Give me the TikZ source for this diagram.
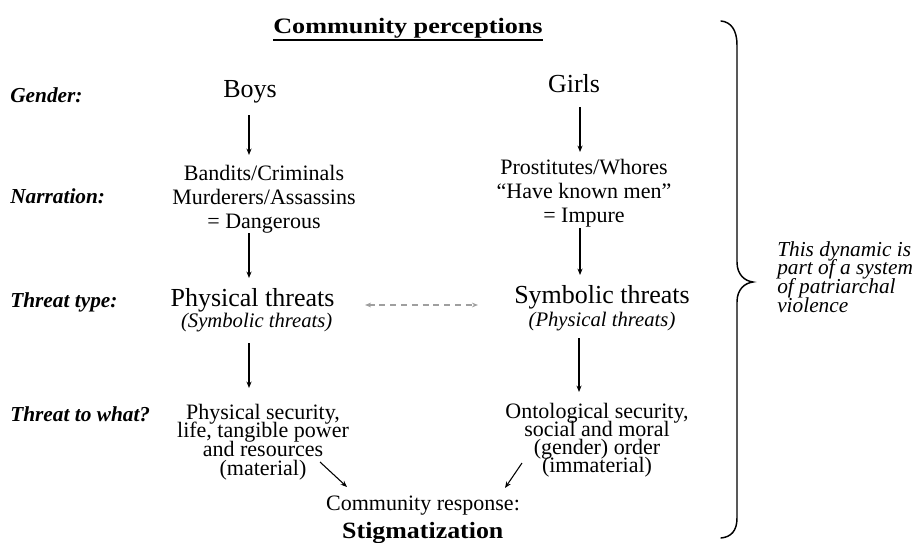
\documentclass[tikz,border=0pt]{standalone}
\usepackage{fontspec}
\usepackage{graphicx}
\setmainfont{Liberation Serif}
\usetikzlibrary{arrows.meta,calc}
\newcommand{\tightlines}{\lineskiplimit=-100pt\lineskip=0pt}
\tikzset{
  txt/.style={inner sep=0pt, outer sep=0pt, anchor=base},
  big/.style={txt, font=\fontsize{19.5}{22}\selectfont},
  sub/.style={txt, font=\fontsize{15.5}{18}\selectfont\itshape},
  rowlbl/.style={inner sep=0pt, anchor=base west, font=\fontsize{16}{18}\selectfont\bfseries\itshape},
  multi/.style={txt, align=center},
  arr/.style={line width=0.8pt, -{Stealth[length=4.8pt,width=3.8pt]}},
  dasharr/.style={line width=0.8pt, gray!75, dash pattern=on 4.5pt off 3.6pt, {Stealth[length=4.5pt,width=3.5pt]}-{Stealth[length=4.5pt,width=3.5pt]}},
  bracepath/.style={line width=1.1pt, line cap=round}
}
\begin{document}
\begin{tikzpicture}[x=0.75pt, y=-0.75pt]
\useasboundingbox (0,0) rectangle (922,543);
% title
\node[txt, font=\fontsize{16.5}{20}\selectfont\bfseries] (title) at (408,33.5) {\scalebox{1.19}[1]{Community perceptions}};
\draw[line width=1pt] ($(title.base west)+(0,6.5)$) -- ($(title.base east)+(0,6.5)$);
% row labels
\node[rowlbl] (lgender) at (10,102) {Gender:};
\node[rowlbl] (lnarr) at (10,203) {Narration:};
\node[rowlbl] (ltype) at (10,307) {Threat type:};
\node[rowlbl] (lwhat) at (10,421) {Threat to what?};
% gender
\node[big] (boys) at (250,97) {Boys};
\node[big] (girls) at (574,92) {Girls};
% narration (base = last line)
\node[multi, font=\fontsize{16.5}{18}\selectfont\tightlines] (nB) at (264,228) {Bandits/Criminals\\Murderers/Assassins\\= Dangerous};
\node[multi, font=\fontsize{16.5}{17.7}\selectfont\tightlines] (nG) at (584,222) {Prostitutes/Whores\\“Have known men”\\= Impure};
% threat type
\node[big] (phys) at (252.5,306) {Physical threats};
\node[sub] (physsub) at (256.7,327) {(Symbolic threats)};
\node[big] (symb) at (602,303) {Symbolic threats};
\node[sub] (symbsub) at (602,326) {(Physical threats)};
% threat to what (base = last line)
\node[multi, font=\fontsize{16.5}{14}\selectfont\tightlines] (wB) at (263,475) {Physical security,\\life, tangible power\\and resources\\(material)};
\node[multi, font=\fontsize{16.5}{13.4}\selectfont\tightlines] (wG) at (597,472) {Ontological security,\\social and moral\\(gender) order\\(immaterial)};
% response
\node[txt, font=\fontsize{16.5}{18}\selectfont] (resp) at (423,510) {Community response:};
\node[txt, font=\fontsize{17.5}{20}\selectfont\bfseries] (stig) at (422.8,538.3) {\scalebox{1.11}[1]{Stigmatization}};
% right text
\node[inner sep=0pt, anchor=base west, align=left, font=\fontsize{16}{14}\selectfont\itshape\tightlines] (note) at (777,312) {This dynamic is\\part of a system\\of patriarchal\\violence};
% arrows
\draw[arr] ($(boys.base)+(-1,18)$) -- ($(nB.base)+(-15,-73)$);
\draw[arr] ($(girls.base)+(6,15)$) -- ($(nG.base)+(-4,-70)$);
\draw[arr] ($(nB.base)+(-15,5)$) -- ($(phys.base)+(-3.5,-28)$);
\draw[arr] ($(nG.base)+(-4,6)$) -- ($(symb.base)+(-22,-28)$);
\draw[arr] ($(physsub.base)+(-7.7,16)$) -- ($(wB.base)+(-14,-87)$);
\draw[arr] ($(symbsub.base)+(-23,12)$) -- ($(wG.base)+(-18,-80)$);
\draw[arr] ($(wB.base)+(57,-13)$) -- ($(resp.base)+(-76,-23)$);
\draw[arr] ($(wG.base)+(-75,-9)$) -- ($(resp.base)+(82,-22)$);
\draw[dasharr] ($(phys.base)+(112.5,-1)$) -- ($(symb.base)+(-124,2)$);
% brace
\draw[bracepath] (721,21) .. controls (731,22) and (737,30) .. (737,45) -- (737,262)
  .. controls (737,275) and (745,281) .. (753,282)
  .. controls (745,283) and (737,289) .. (737,302) -- (737,518)
  .. controls (737,531) and (731,537) .. (721,538);
\end{tikzpicture}
\end{document}
